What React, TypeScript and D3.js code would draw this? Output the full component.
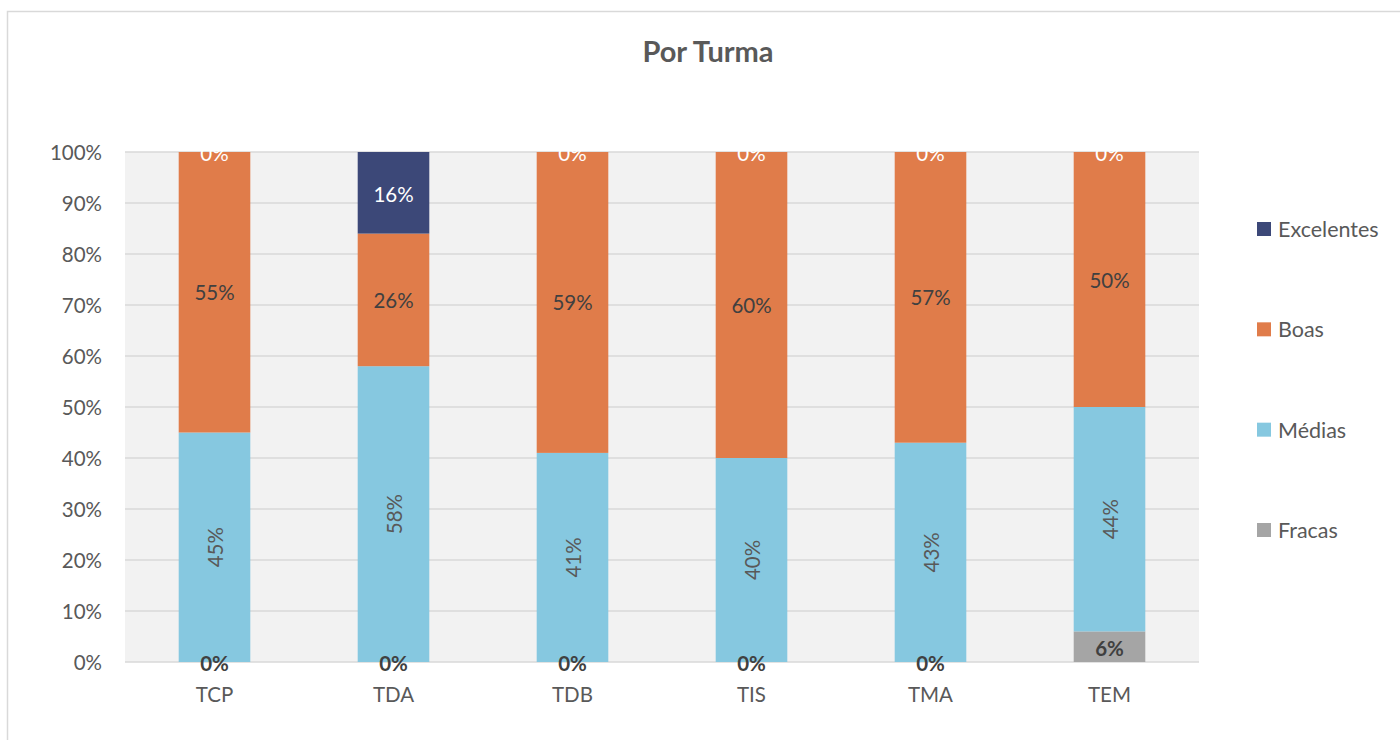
import React from "react";
import * as d3 from "d3";

const categories = ["TCP", "TDA", "TDB", "TIS", "TMA", "TEM"];
const fracas = [0, 0, 0, 0, 0, 6];
const medias = [45, 58, 41, 40, 43, 44];
const boas = [55, 26, 59, 60, 57, 50];
const excelentes = [0, 16, 0, 0, 0, 0];
const yTicks = [0, 10, 20, 30, 40, 50, 60, 70, 80, 90, 100];

const seriesNames = ["Fracas", "Médias", "Boas", "Excelentes"];
const seriesColors = ["#A5A5A5", "#86C8E0", "#E07C4A", "#3C4878"];
const legendOrder = ["Excelentes", "Boas", "Médias", "Fracas"];

const FONT = "Lato, 'Open Sans', sans-serif";

export default function App() {
  const W = 1400, H = 740;
  const left = 125, right = 1199, top = 152, bottom = 662;

  const table = categories.map((c, i) => ({
    cat: c,
    Fracas: fracas[i],
    "Médias": medias[i],
    Boas: boas[i],
    Excelentes: excelentes[i],
  }));
  const stacked = d3.stack<any>().keys(seriesNames)(table);

  const x = d3.scaleBand().domain(categories).range([left, right]).paddingInner(0.6).paddingOuter(0.3);
  const y = d3.scaleLinear().domain([0, 100]).range([bottom, top]);
  const bw = x.bandwidth();

  const legendY = d3.scalePoint().domain(legendOrder).range([229, 530]);

  return (
    <svg width={W} height={H} style={{ position: "absolute", left: 0, top: 0, fontFamily: FONT }}>
      <rect x={0} y={0} width={W} height={H} fill="#ffffff" />
      <rect x={7.5} y={11.5} width={W + 20} height={H + 20} fill="none" stroke="#D9D9D9" strokeWidth={1.5} />
      <text x={708} y={62} textAnchor="middle" fontSize={29} fontWeight="bold" fill="#595959">Por Turma</text>

      <rect x={left} y={top} width={right - left} height={bottom - top} fill="#F2F2F2" />
      {yTicks.map((t) => (
        <g key={t}>
          <line x1={left} x2={right} y1={y(t)} y2={y(t)} stroke="#D9D9D9" strokeWidth={1.5} />
          <text x={102} y={y(t)} textAnchor="end" dominantBaseline="central" fontSize={20.5} fill="#595959">{t}%</text>
        </g>
      ))}

      {stacked.map((s, si) =>
        s.map((d, i) => (
          <rect key={`${si}-${i}`} x={x(categories[i])!} y={y(d[1])} width={bw} height={y(d[0]) - y(d[1])} fill={seriesColors[si]} />
        ))
      )}

      {stacked.map((s, si) =>
        s.map((d, i) => {
          const v = d[1] - d[0];
          const cx = x(categories[i])! + bw / 2;
          const cy = (y(d[0]) + y(d[1])) / 2;
          const label = `${v}%`;
          const name = seriesNames[si];
          if (name === "Fracas") {
            return <text key={`l${si}-${i}`} x={cx} y={cy + 1} textAnchor="middle" dominantBaseline="central" fontSize={20.5} fontWeight="bold" fill="#404040">{label}</text>;
          }
          if (name === "Médias") {
            return <text key={`l${si}-${i}`} transform={`translate(${cx},${cy}) rotate(-90)`} textAnchor="middle" dominantBaseline="central" fontSize={20.5} fill="#595959">{label}</text>;
          }
          if (name === "Boas") {
            return <text key={`l${si}-${i}`} x={cx} y={cy} textAnchor="middle" dominantBaseline="central" fontSize={20.5} fill="#404040">{label}</text>;
          }
          return <text key={`l${si}-${i}`} x={cx} y={cy + 1} textAnchor="middle" dominantBaseline="central" fontSize={20.5} fill="#FFFFFF">{label}</text>;
        })
      )}

      {categories.map((c) => (
        <text key={c} x={x(c)! + bw / 2} y={694} textAnchor="middle" dominantBaseline="central" fontSize={20.5} fill="#595959">{c}</text>
      ))}

      {legendOrder.map((n) => (
        <g key={n}>
          <rect x={1257} y={legendY(n)! - 7} width={14} height={14} fill={seriesColors[seriesNames.indexOf(n)]} />
          <text x={1278} y={legendY(n)!} dominantBaseline="central" fontSize={21.5} fill="#595959">{n}</text>
        </g>
      ))}
    </svg>
  );
}
